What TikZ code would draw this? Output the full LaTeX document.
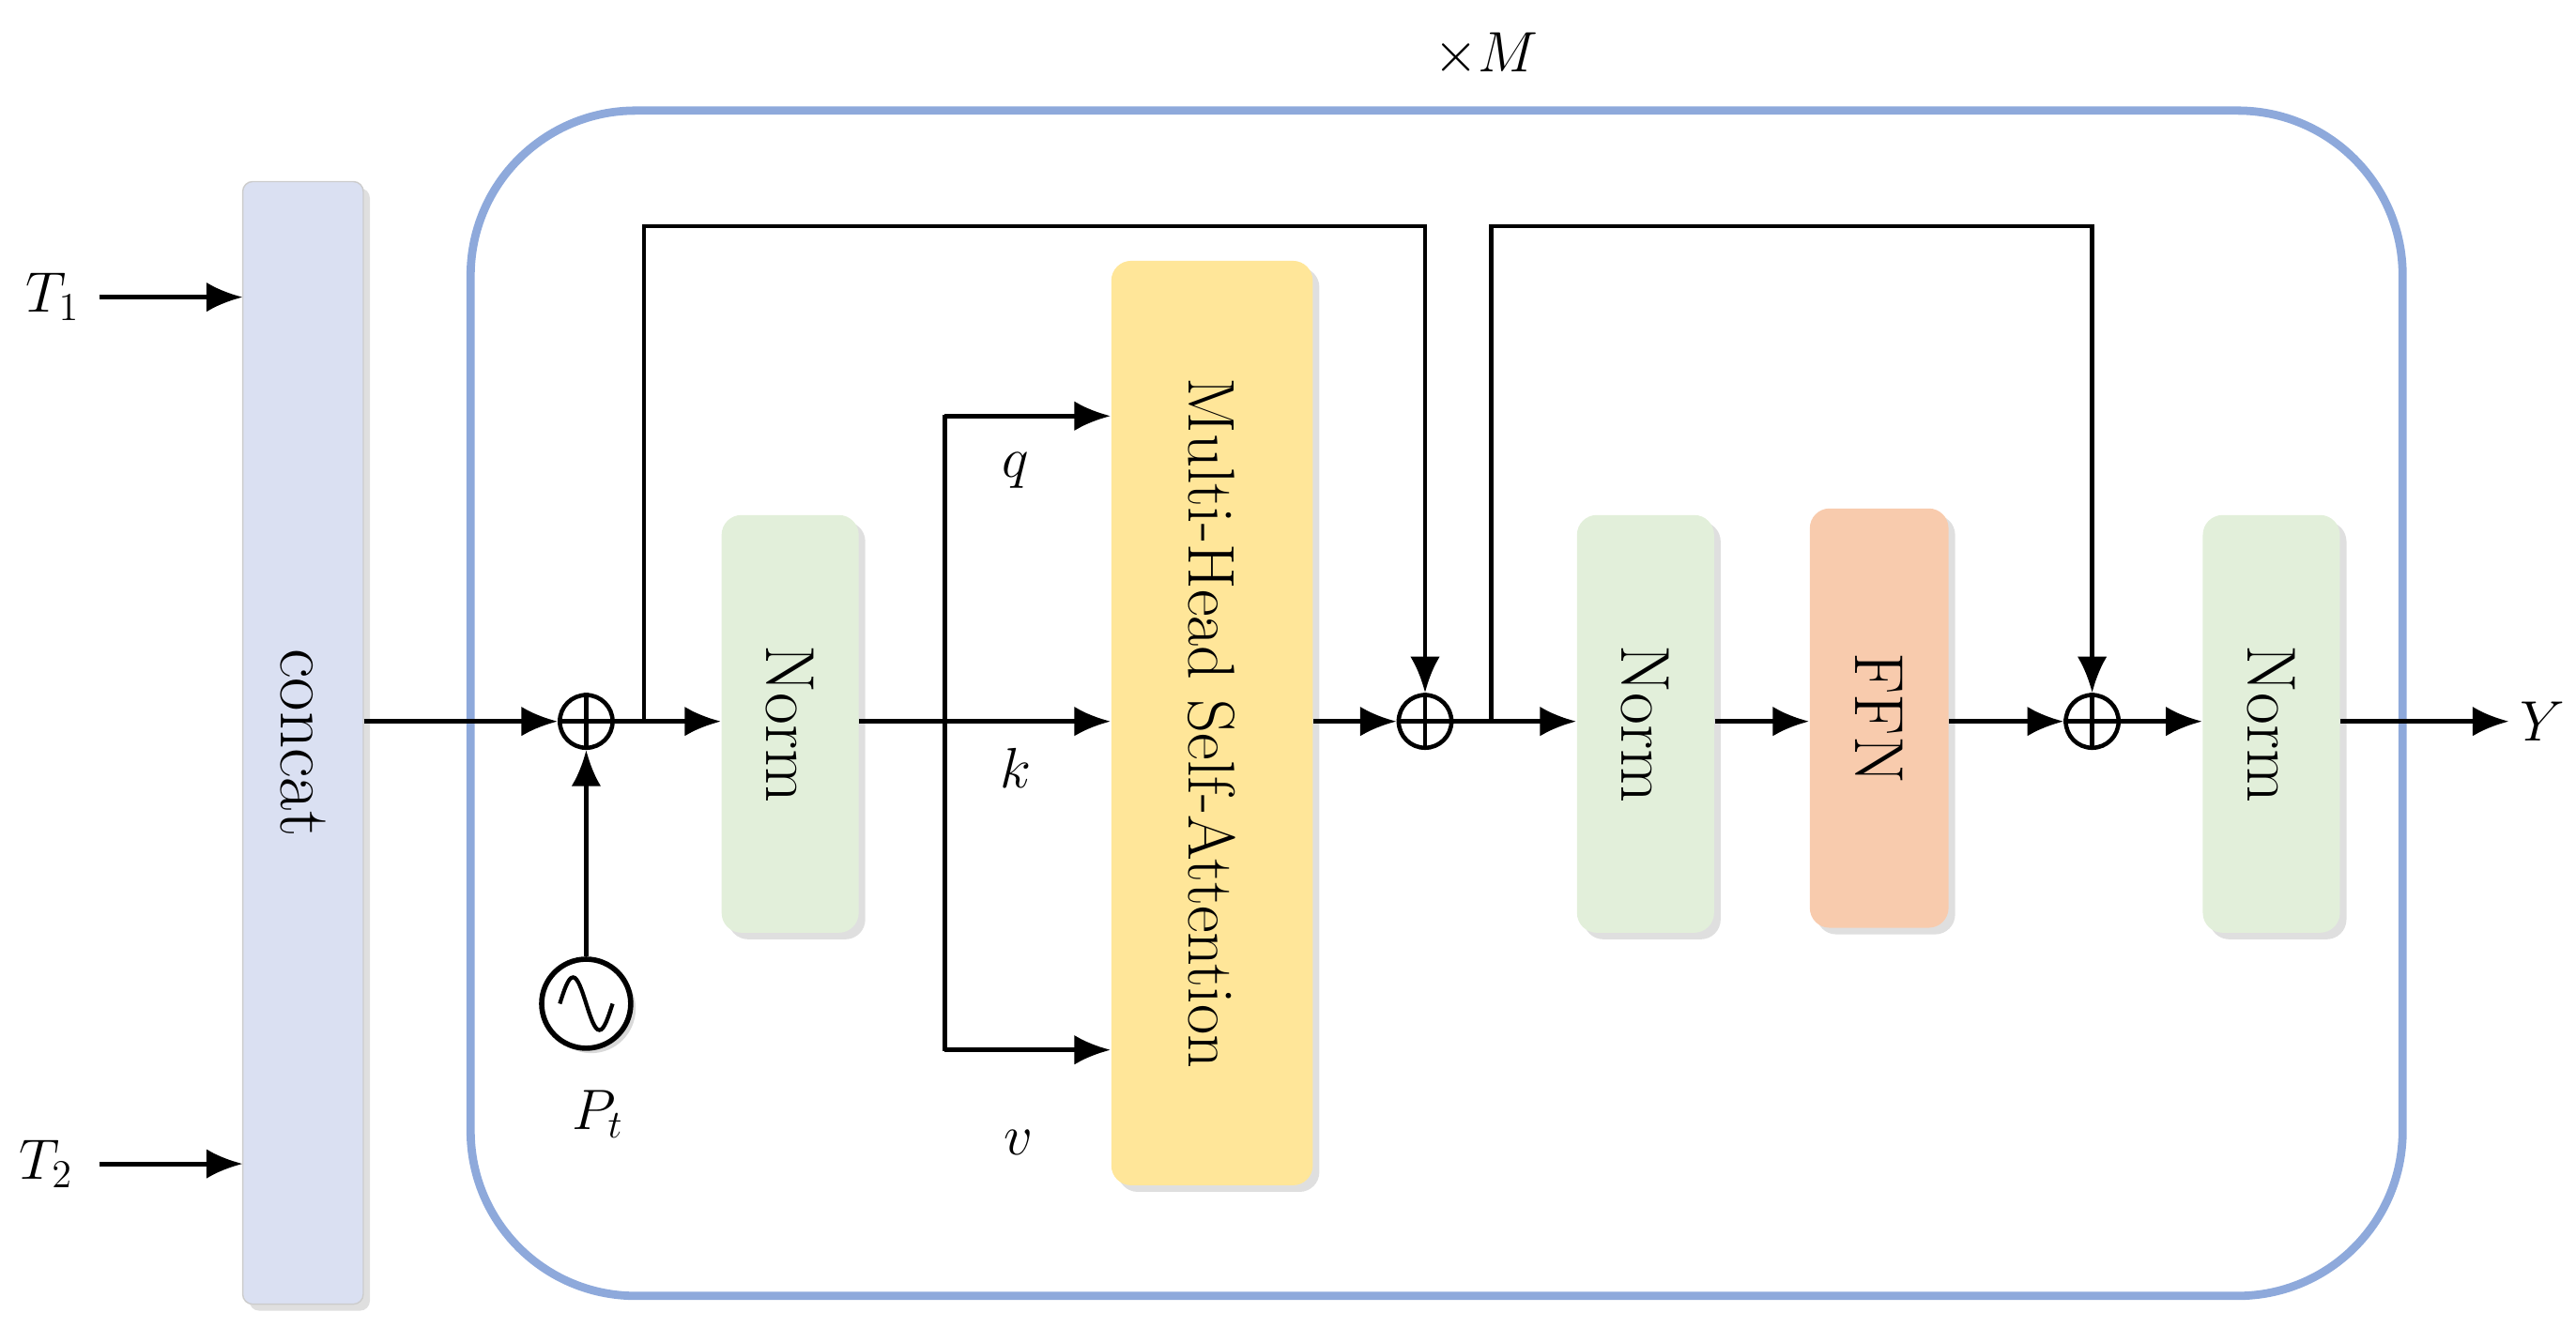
\documentclass[tikz,border=0pt]{standalone}
\usetikzlibrary{shadows,arrows.meta}
\definecolor{concatc}{HTML}{DAE0F2}
\definecolor{normc}{HTML}{E2EFDA}
\definecolor{attc}{HTML}{FFE699}
\definecolor{ffnc}{HTML}{F8CBAD}
\definecolor{outerc}{HTML}{8EA9DB}
\begin{document}
\begin{tikzpicture}[x=0.01759cm,y=-0.01759cm,
  font=\fontsize{20}{24}\selectfont,
  lab/.style={font=\fontsize{17}{20}\selectfont},
  blk/.style={draw=none,rounded corners=6pt,drop shadow={opacity=0.25,shadow xshift=2pt,shadow yshift=-2pt}},
  arr/.style={-{Latex[length=11pt,width=9pt]},line width=1.4pt},
  ln/.style={line width=1.4pt},
  op/.style={circle,draw,line width=1.3pt,minimum size=16pt,inner sep=0pt}]
\useasboundingbox (0,0) rectangle (1560,813);
% outer block
\draw[outerc,line width=2.5pt,rounded corners=50pt] (285,67) rectangle (1455,785);
\node[lab] (m) at (900,33) {$\times M$};
% boxes
\node[blk,fill=concatc,draw=gray!40,rounded corners=3pt,minimum width=73*0.01759cm,minimum height=680*0.01759cm] (cat) at (183.5,450) {};
\node[rotate=-90,font=\fontsize{22}{26}\selectfont] at (cat.center) {concat};
\node[blk,fill=normc,minimum width=83*0.01759cm,minimum height=253*0.01759cm] (n1) at (478.5,438.5) {};
\node[rotate=-90,font=\fontsize{21}{24}\selectfont] at (n1.center) {Norm};
\node[blk,fill=attc,minimum width=122*0.01759cm,minimum height=560*0.01759cm] (att) at (734,438) {};
\node[rotate=-90] at (att.center) {Multi-Head Self-Attention};
\node[blk,fill=normc,minimum width=83*0.01759cm,minimum height=253*0.01759cm] (n2) at (996.5,438.5) {};
\node[rotate=-90,font=\fontsize{21}{24}\selectfont] at (n2.center) {Norm};
\node[blk,fill=ffnc,minimum width=84*0.01759cm,minimum height=254*0.01759cm] (ffn) at (1138,435) {};
\node[rotate=-90,font=\fontsize{21}{24}\selectfont] at (ffn.center) {FFN};
\node[blk,fill=normc,minimum width=83*0.01759cm,minimum height=253*0.01759cm] (n3) at (1375.5,438.5) {};
\node[rotate=-90,font=\fontsize{21}{24}\selectfont] at (n3.center) {Norm};
% operators
\node[op] (p1) at (355,437) {};
\draw[ln] (p1.north)--(p1.south) (p1.west)--(p1.east);
\node[op] (p2) at (863,437) {};
\draw[ln] (p2.north)--(p2.south) (p2.west)--(p2.east);
\node[op] (p3) at (1267,437) {};
\draw[ln] (p3.north)--(p3.south) (p3.west)--(p3.east);
\node[op,minimum size=27pt,line width=1.6pt,drop shadow={opacity=0.3,shadow xshift=1.5pt,shadow yshift=-1.5pt},fill=white] (pe) at (355,608) {};
\draw[line width=1.2pt] ([xshift=-8pt]pe.center) sin ([xshift=-4pt,yshift=8pt]pe.center) cos (pe.center) sin ([xshift=4pt,yshift=-8pt]pe.center) cos ([xshift=8pt]pe.center);
\node[lab] (pt) at (362,675) {$P_t$};
% inputs
\node[lab] (t1) at (32,180) {$T_1$};
\node[lab] (t2) at (28,705) {$T_2$};
\coordinate (c1) at (147,180); \coordinate (c2) at (147,705);
\draw[arr] (60,180) -- (c1);
\draw[arr] (60,705) -- (c2);
% main path
\draw[arr] (cat.east |- p1) -- (p1.west);
\draw[arr] (pe.north) -- (p1.south);
\draw[arr] (p1.east) -- (n1.west |- p1);
\draw[arr] (n1.east |- p1) -- (att.west |- p1);
\draw[arr] (572,252) -- (att.west |- 0,252);
\draw[arr] (572,636) -- (att.west |- 0,636);
\draw[ln] (572,251.3) -- (572,636.7);
\node[lab] at (615,285) {$q$};
\node[lab] at (615,465) {$k$};
\node[lab] at (617,692) {$v$};
\draw[arr] (att.east |- p2) -- (p2.west);
\draw[arr] (390,437) |- (863,137) -- (p2.north);
\draw[arr] (p2.east) -- (n2.west |- p2);
\draw[arr] (903,437) |- (1267,137) -- (p3.north);
\draw[arr] (n2.east |- p2) -- (ffn.west |- p2);
\draw[arr] (ffn.east |- p3) -- (p3.west);
\draw[arr] (p3.east) -- (n3.west |- p3);
\node[lab] (y) at (1540,437) {$Y$};
\draw[arr] (n3.east |- p3) -- (y.west);
\end{tikzpicture}
\end{document}
